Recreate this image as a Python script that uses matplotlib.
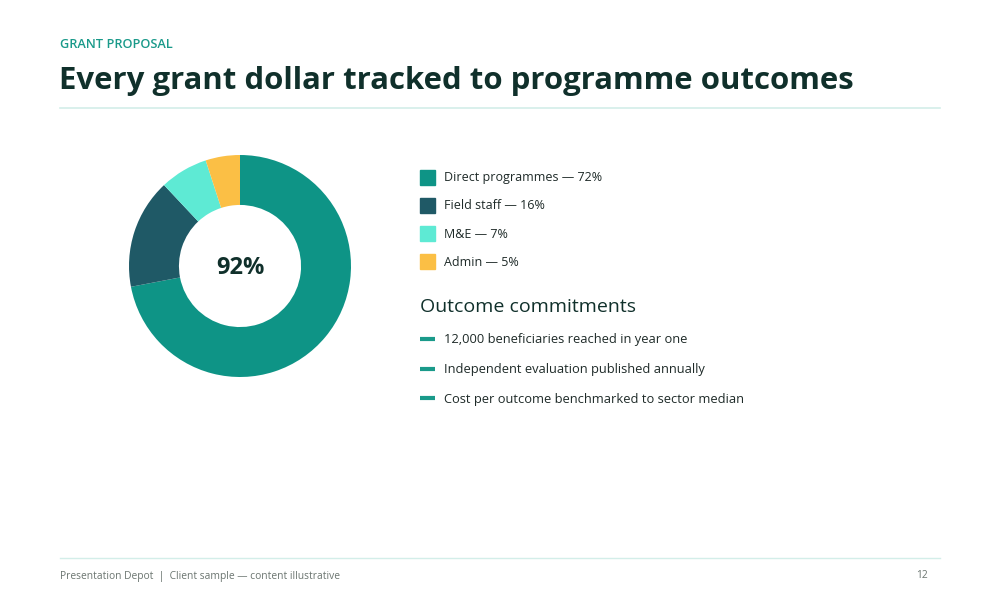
import matplotlib.pyplot as plt

# data
labels = ['Direct programmes', 'Field staff', 'M&E', 'Admin']
shares = [72, 16, 7, 5]
colors = ['#0E9486', '#1F5966', '#5EEAD4', '#FBBF45']
centre_label = '92%'
commitments = ['12,000 beneficiaries reached in year one',
               'Independent evaluation published annually',
               'Cost per outcome benchmarked to sector median']

plt.rcParams['font.family'] = ['Open Sans', 'DejaVu Sans']
W, H = 1000, 600
fig = plt.figure(figsize=(10, 6), dpi=100)
fig.patch.set_facecolor('white')


def px(x, y):
    return x / W, 1 - y / H


dark = '#10302B'
fig.text(*px(60, 45), 'GRANT PROPOSAL', color='#1A9A8A', fontsize=9.2,
         va='center', ha='left', fontweight='semibold')
fig.text(*px(59, 81), 'Every grant dollar tracked to programme outcomes',
         color=dark, fontsize=22.4, fontweight='bold', va='center', ha='left')
fig.add_artist(plt.Line2D([60 / W, 940 / W], [1 - 108 / H] * 2,
                          color='#D3EEE9', lw=1.2))

# donut
ax = fig.add_axes([129 / W, 1 - 377 / H, 222 / W, 222 / H])
ax.pie(shares, colors=colors, startangle=90, counterclock=False,
       wedgeprops=dict(width=0.45, edgecolor='none'))
ax.set_xlim(-1, 1)
ax.set_ylim(-1, 1)
ax.set_aspect('equal')
ax.text(0, -0.02, centre_label, ha='center', va='center', fontsize=17,
        fontweight='bold', color=dark)

# legend
for i, (lab, v, c) in enumerate(zip(labels, shares, colors)):
    y = 177 + i * 28
    fig.patches.append(plt.Rectangle(px(420, y + 7.5), 15 / W, 15 / H,
                                     transform=fig.transFigure, color=c))
    fig.text(*px(444, y + 1), f'{lab} — {v}%', fontsize=9, color='#1E2A28',
             va='center', ha='left')

fig.text(*px(420, 307), 'Outcome commitments', fontsize=14, color=dark,
         va='center', ha='left')
for i, t in enumerate(commitments):
    y = 339 + i * 29.5
    fig.add_artist(plt.Line2D([420 / W, 435 / W], [1 - y / H] * 2,
                              color='#1A9A8A', lw=3, solid_capstyle='butt'))
    fig.text(*px(444, y + 1), t, fontsize=9.3, color='#1E2A28',
             va='center', ha='left')

# footer
fig.add_artist(plt.Line2D([60 / W, 940 / W], [1 - 558 / H] * 2,
                          color='#D3EEE9', lw=1))
fig.text(*px(60, 576), 'Presentation Depot  |  Client sample — content illustrative',
         fontsize=7.4, color='#6B7570', va='center', ha='left')
fig.text(*px(928, 576), '12', fontsize=7.4, color='#6B7570',
         va='center', ha='right')

fig.savefig('out.png', dpi=100, facecolor='white')
